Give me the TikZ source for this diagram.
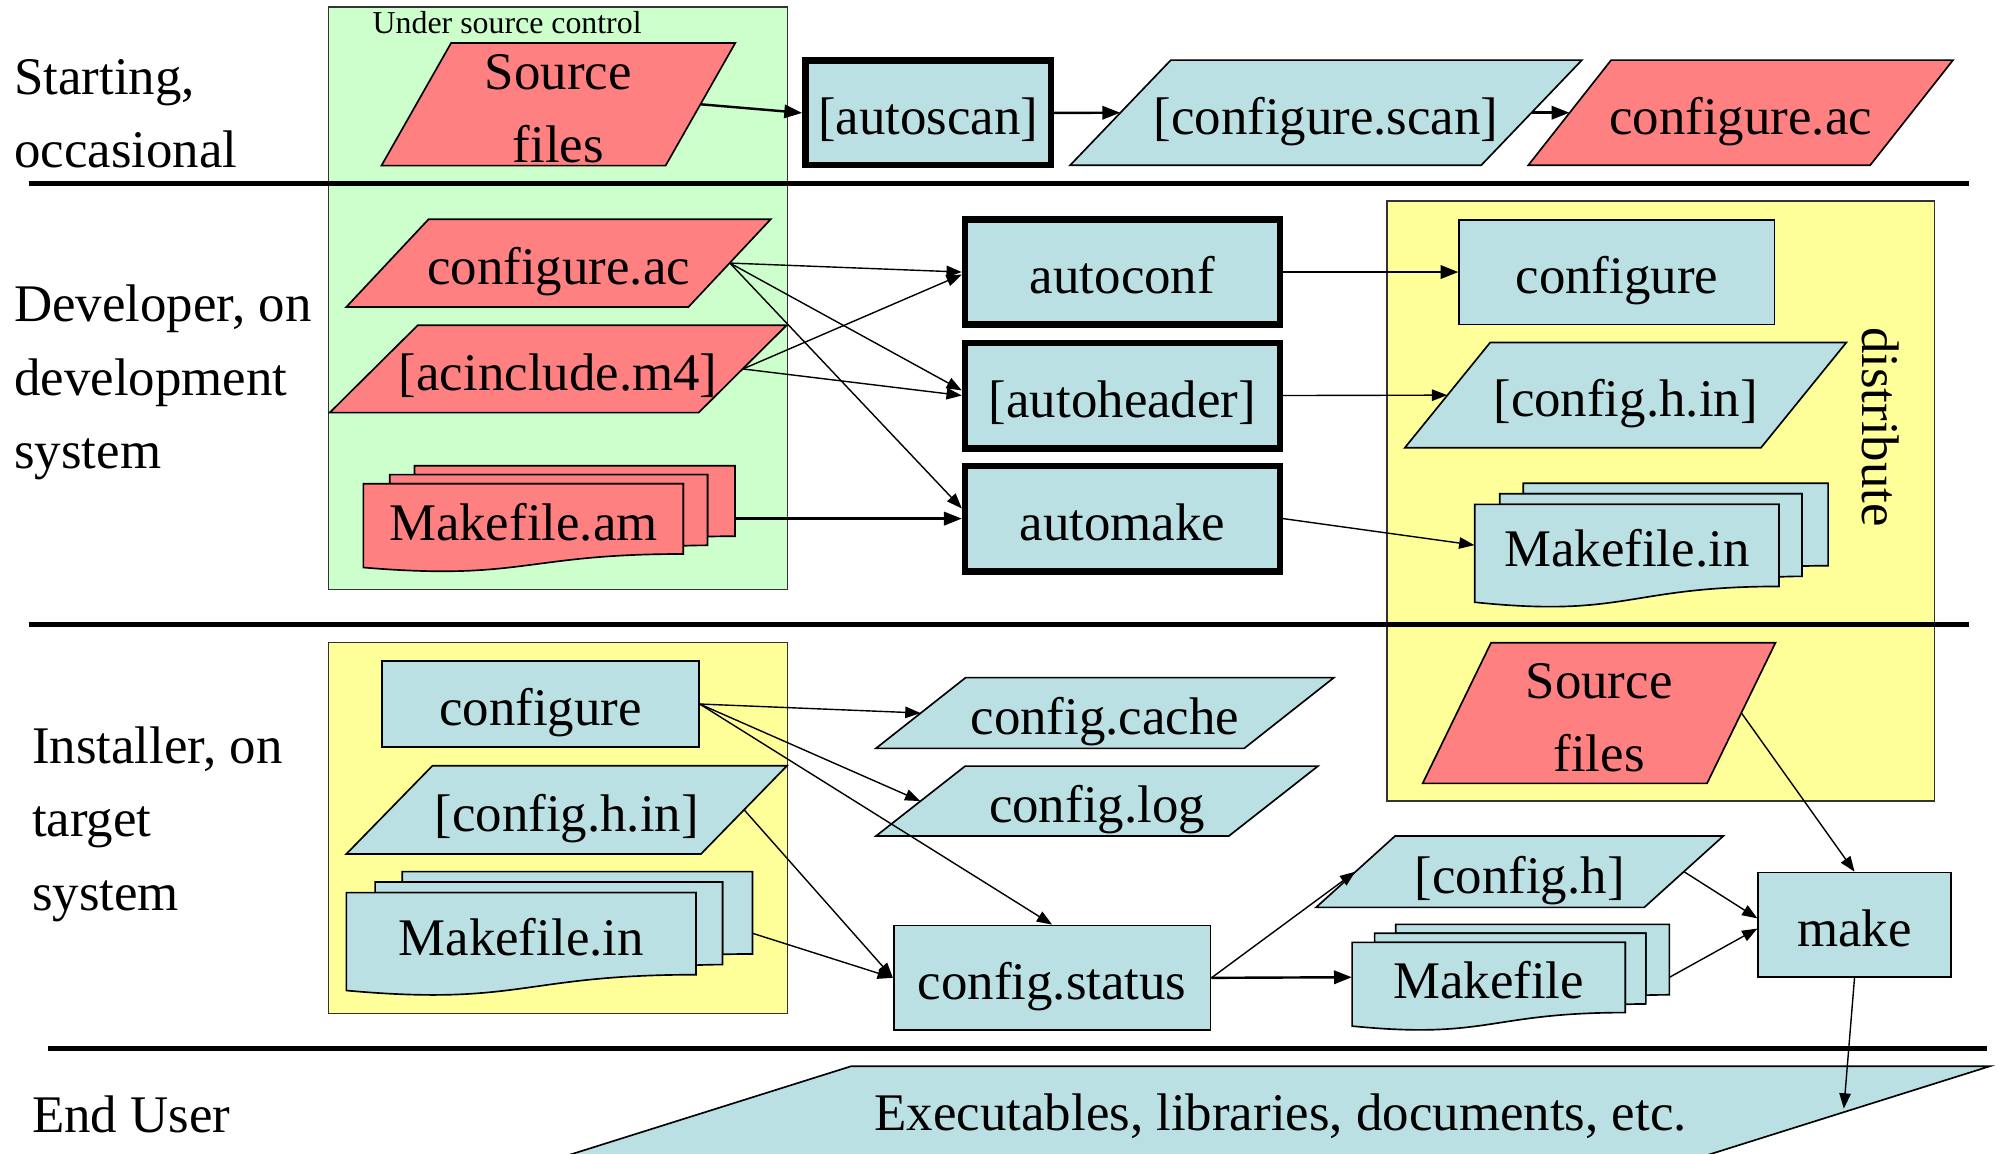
\documentclass[tikz,border=0pt]{standalone}
\usepackage{fontspec}
\setmainfont{Liberation Serif}
\usetikzlibrary{arrows.meta}

\definecolor{srcred}{HTML}{FF8080}
\definecolor{genblue}{HTML}{BBE0E3}
\definecolor{ctrlgreen}{HTML}{CCFFCC}
\definecolor{distyellow}{HTML}{FFFF99}

% strut giving every text line the same height (36pt) and depth (2pt)
\newcommand\lstrut{\rule[-2pt]{0pt}{38pt}}

% parallelogram: name, cx, cy, side length, height, slant, fill, text
\newcommand\para[8]{%
  \filldraw[outline, fill=#7]
    (#2-0.5*#4+0.5*#6, #3-0.5*#5) -- (#2+0.5*#4+0.5*#6, #3-0.5*#5) --
    (#2+0.5*#4-0.5*#6, #3+0.5*#5) -- (#2-0.5*#4-0.5*#6, #3+0.5*#5) -- cycle;
  \node[textbox, minimum width=#4, minimum height=#5] (#1) at (#2,#3) {#8};}

% two-line parallelogram: name, cx, cy, side length, height, slant, fill, text
\newcommand\paratwo[8]{%
  \filldraw[outline, fill=#7]
    (#2-0.5*#4+0.5*#6, #3-0.5*#5) -- (#2+0.5*#4+0.5*#6, #3-0.5*#5) --
    (#2+0.5*#4-0.5*#6, #3+0.5*#5) -- (#2-0.5*#4-0.5*#6, #3+0.5*#5) -- cycle;
  \node[multiline, align=center, minimum width=#4, minimum height=#5] (#1) at (#2,#3) {#8};}

% stack of documents: name, x0, y0 (top left), width, height, fill, text
\newcommand\multidoc[7]{%
  \filldraw[outline, fill=#6]
    (#2+0.13759*#4, #3+0.08403*#5) -- (#2+0.13759*#4, #3) -- (#2+#4, #3) --
    (#2+#4, #3+0.66630*#5) .. controls (#2+0.96296*#4, #3+0.66630*#5) and
    (#2+0.92593*#4, #3+0.66977*#5) .. (#2+0.92593*#4, #3+0.66977*#5) --
    (#2+0.92593*#4, #3+0.08403*#5) -- cycle;
  \filldraw[outline, fill=#6]
    (#2+0.07093*#4, #3+0.17014*#5) -- (#2+0.07093*#4, #3+0.08403*#5) --
    (#2+0.92593*#4, #3+0.08403*#5) --
    (#2+0.92593*#4, #3+0.75241*#5) .. controls (#2+0.89343*#4, #3+0.75241*#5) and
    (#2+0.86088*#4, #3+0.75704*#5) .. (#2+0.86088*#4, #3+0.75704*#5) --
    (#2+0.86088*#4, #3+0.17014*#5) -- cycle;
  \filldraw[outline, fill=#6]
    (#2, #3+0.96213*#5) .. controls (#2+0.43046*#4, #3+1.08991*#5) and
    (#2+0.43046*#4, #3+0.83435*#5) .. (#2+0.86088*#4, #3+0.83435*#5) --
    (#2+0.86088*#4, #3+0.17014*#5) -- (#2, #3+0.17014*#5) -- cycle;
  \node[textbox, minimum width=#4, minimum height=#5] (#1) at (#2+0.5*#4, #3+0.5*#5) {};
  \node[textbox] (#1-text) at (#2+0.43044*#4, #3+0.5*#5) {#7};}

\begin{document}
\begin{tikzpicture}[x=1pt, y=-1pt,
  bigfont/.style={font=\fontsize{41.5}{57.6}\selectfont},
  textbox/.style={bigfont, inner sep=0pt, text height=36pt, text depth=2pt},
  multiline/.style={bigfont, inner sep=0pt},
  rowlabel/.style={bigfont, inner sep=0pt, align=left, anchor=north west},
  outline/.style={draw=black, line width=1.3pt},
  group/.style={draw=black!80, line width=1pt, inner sep=0pt},
  tool/.style={textbox, draw=black, line width=5.2pt, fill=genblue},
  file/.style={textbox, draw=black, line width=1.3pt, fill=genblue},
  rule/.style={line width=4pt},
  arrow/.style={line width=1.1pt, -{Triangle[length=12pt,width=9pt]}},
  heavy arrow/.style={line width=1.9pt, -{Triangle[length=14pt,width=10.5pt]}}]

\useasboundingbox[fill=white] (0,0) rectangle (1568,905);

% group boxes
\node[group, fill=ctrlgreen, minimum width=360.3, minimum height=457.1] (srcctrl) at (437.95,233.95) {};
\node[group, fill=distyellow, minimum width=429.7, minimum height=471] (dist) at (1303.35,393.2) {};
\node[group, fill=distyellow, minimum width=360.3, minimum height=291.2] (inst) at (437.95,649.7) {};
\node[inner sep=0pt, anchor=base, font=\fontsize{25}{30}\selectfont] (ctrllbl) at (398,26.4) {Under source control};
\node[bigfont, inner sep=0pt, anchor=base, rotate=-90] (distlbl) at (1461.7,335) {distribute};

% lane separators
\draw[rule] (22.5,144.2) -- (1545.2,144.2);
\draw[rule] (22.5,490.3) -- (1545.2,490.3);
\draw[rule] (37.5,822.5) -- (1559.1,822.5);

% lane titles
\node[rowlabel] (lane1) at (11,37.6) {\lstrut Starting,\\occasional};
\node[rowlabel] (lane2) at (11,216.3) {\lstrut Developer, on\\development\\system};
\node[rowlabel] (lane3) at (25,562.8) {\lstrut Installer, on\\target\\system};
\node[rowlabel] (lane4) at (25,852.9) {\lstrut End User};

% starting
\paratwo{srcA}{438.2}{81.85}{223}{96.3}{54.7}{srcred}{\lstrut Source\\files\lstrut}
\node[tool, minimum width=192.6, minimum height=82] (autoscan) at (728.4,88.6) {[autoscan]};
\para{cscan}{1040.6}{88.45}{322.6}{82.5}{79}{genblue}{[configure.scan]}
\para{cacA}{1366}{88.45}{268.3}{82.5}{65}{srcred}{configure.ac}

% developer
\para{cacB}{438.35}{206.45}{268.5}{68.9}{64.6}{srcred}{configure.ac}
\para{acinc}{438.05}{289.55}{289.5}{68.5}{69}{srcred}{[acinclude.m4]}
\multidoc{mam}{285.2}{365.5}{291.6}{83}{srcred}{Makefile.am}
\node[tool, minimum width=247, minimum height=82.7] (autoconf) at (880.9,213.5) {autoconf};
\node[tool, minimum width=247, minimum height=82.7] (autoheader) at (880.9,310.4) {[autoheader]};
\node[tool, minimum width=247, minimum height=82.7] (automake) at (880.9,407) {automake};
\node[file, minimum width=247.5, minimum height=82.2] (confD) at (1268.9,213.5) {configure};
\para{chinD}{1275.7}{310.1}{279.5}{82.6}{67}{genblue}{[config.h.in]}
\multidoc{mind}{1157.3}{379.3}{277.4}{97}{genblue}{Makefile.in}

% installer
\node[file, minimum width=248.5, minimum height=67.8] (conf3) at (424.2,552.5) {configure};
\para{chin3}{444.7}{635.6}{278.3}{69.2}{67.5}{genblue}{[config.h.in]}
\multidoc{min3}{271.8}{684}{318.8}{97}{genblue}{Makefile.in}
\para{cache}{867.1}{559.55}{289}{55.5}{70.4}{genblue}{config.cache}
\para{log}{860.9}{628.65}{276.9}{54.9}{70}{genblue}{config.log}
\node[file, minimum width=248.7, minimum height=82.3] (cstatus) at (825.7,767.4) {config.status};
\para{chh}{1192.6}{684.1}{257.6}{56}{62}{genblue}{[config.h]}
\multidoc{mk}{1061.1}{725.4}{249}{83}{genblue}{Makefile}
\paratwo{srcB}{1254.9}{559.6}{223.2}{110.4}{53.7}{srcred}{\lstrut Source\\files\lstrut}
\node[file, minimum width=151.2, minimum height=81.9] (make) at (1455.4,725.7) {make};

% end user (the shape runs on past the lower edge of the page)
\para{exe}{990}{876}{893.6}{78.4}{249.3}{genblue}{\raisebox{6pt}{\hspace*{30pt}Executables, libraries, documents, etc.}}
\coordinate (exetip) at (1447,870);

% connectors
\draw[heavy arrow] (srcA.east) -- (autoscan.west);
\draw[heavy arrow] (autoscan.east) -- (cscan.west);
\draw[heavy arrow] (cscan.east) -- (cacA.west);

\draw[arrow] (cacB.east) -- (autoconf.west);
\draw[arrow] (cacB.east) -- ([yshift=4pt]autoheader.west);
\draw[arrow] (cacB.east) -- ([yshift=8pt]automake.west);
\draw[arrow] (acinc.east) -- ([yshift=-2pt]autoconf.west);
\draw[arrow] (acinc.east) -- (autoheader.west);
\draw[heavy arrow] (mam.east) -- (automake.west);
\draw[heavy arrow] (autoconf.east) -- (confD.west);
\draw[arrow] (autoheader.east) -- (chinD.west);
\draw[arrow] (automake.east) -- (mind.west);

\draw[arrow] (conf3.east) -- (cache.west);
\draw[arrow] (conf3.east) -- (log.west);
\draw[arrow] (conf3.east) -- (cstatus.north);
\draw[arrow] (chin3.east) -- (cstatus.west);
\draw[arrow] (min3.east) -- (cstatus.west);
\draw[arrow] (cstatus.east) -- (chh.west);
\draw[heavy arrow] (cstatus.east) -- (mk.west);
\draw[arrow] (chh.east) -- ([yshift=5pt]make.west);
\draw[arrow] (mk.east) -- ([yshift=-3pt]make.west);
\draw[arrow] (srcB.east) -- (make.north);
\draw[arrow] (make.south) -- (exetip);
\end{tikzpicture}
\end{document}
